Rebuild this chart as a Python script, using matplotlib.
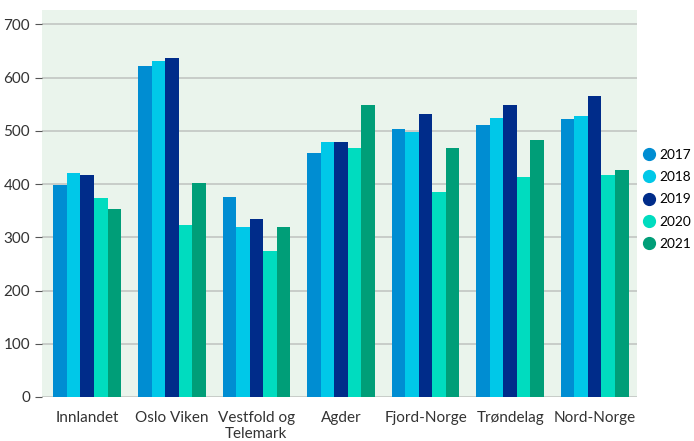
import matplotlib
matplotlib.use("Agg")
import matplotlib.pyplot as plt
from matplotlib.lines import Line2D
import numpy as np

# Data
regioner = ["Innlandet", "Oslo Viken", "Vestfold og\nTelemark", "Agder",
            "Fjord-Norge", "Trøndelag", "Nord-Norge"]
aar = ["2017", "2018", "2019", "2020", "2021"]
v2017 = [398, 622, 376, 459, 504, 511, 522]
v2018 = [420, 632, 320, 479, 498, 524, 528]
v2019 = [417, 636, 335, 479, 532, 549, 566]
v2020 = [374, 323, 274, 468, 385, 413, 417]
v2021 = [353, 402, 320, 549, 468, 483, 427]
serier = [v2017, v2018, v2019, v2020, v2021]
farger = ["#008dd2", "#00c8e8", "#002c8a", "#00dcbf", "#009e78"]

plt.rcParams['font.family'] = ['Lato', 'DejaVu Sans']

fig = plt.figure(figsize=(6.94, 4.41), dpi=100)
ax = fig.add_axes([42/694, 44/441, 595/694, 387/441])
ax.set_facecolor("#eaf4ec")

x = np.arange(len(regioner))
bredde = 0.16
for i, (verdier, farge) in enumerate(zip(serier, farger)):
    ax.bar(x + (i - 2) * bredde, verdier, bredde, color=farge, zorder=3, label=aar[i])

ax.set_xlim(-0.535, len(regioner) - 0.5)
ax.set_ylim(0, 727)
ax.set_yticks(range(0, 701, 100))
ax.set_xticks(x)
ax.set_xticklabels(regioner, fontsize=11, color="#333333", linespacing=1.15)
ax.tick_params(axis="x", length=0, pad=10)
ax.tick_params(axis="y", length=5, color="#555555", labelsize=11, labelcolor="#333333")
ax.grid(axis="y", color="#c2c6c2", linewidth=1.2, zorder=0)
for s in ax.spines.values():
    s.set_visible(False)

handles = [Line2D([0], [0], marker="o", linestyle="", markersize=8.5,
                  markerfacecolor=f, markeredgecolor=f) for f in farger]
fig.legend(handles, aar, loc="center left", bbox_to_anchor=(643/694, 0.548),
           frameon=False, fontsize=9.8, handletextpad=0.3, labelspacing=0.75,
           handlelength=0.9, borderpad=0, borderaxespad=0)

fig.savefig("out.png", dpi=100)
